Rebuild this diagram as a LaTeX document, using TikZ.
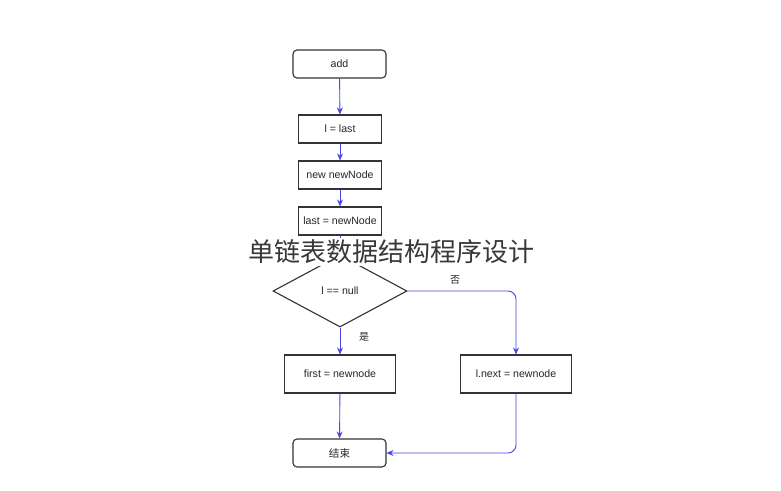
\documentclass[tikz,border=0pt]{standalone}
\usepackage{fontspec}
\setmainfont{Liberation Sans}
\newfontfamily\cjk{Noto Sans CJK SC}
\usetikzlibrary{shapes.geometric,arrows.meta}
\definecolor{edge}{HTML}{333333}
\definecolor{flow}{HTML}{4646E6}
\tikzset{
  base/.style={draw=edge, line width=1.1pt, font=\fontsize{10.6}{12}\selectfont, text=black!85, inner sep=0pt},
  term/.style={base, rounded corners=4pt, minimum width=93pt, minimum height=28pt},
  proc/.style={base, minimum width=83pt, minimum height=28pt},
  wide/.style={base, minimum width=111pt, minimum height=38pt},
  dec/.style={base, diamond, aspect=1.86, minimum width=134pt, minimum height=72pt},
  flowline/.style={draw=flow, line width=0.9pt, -{Stealth[length=7pt,width=6pt]}, rounded corners=8pt},
  lbl/.style={font=\cjk\fontsize{10}{12}\selectfont, text=black!85},
  wm/.style={font=\cjk\fontsize{26}{28}\selectfont, text=black!78, fill=white, inner sep=2pt}
}
\begin{document}
\begin{tikzpicture}[x=1pt,y=-1pt]
\path[use as bounding box, fill=white] (0,0) rectangle (781,490);
\node[term] (add) at (339.5,64) {add};
\node[proc] (l) at (340,129) {l = last};
\node[proc] (nn) at (340,175) {new newNode};
\node[proc] (ln) at (340,221) {last = newNode};
\node[dec] (d) at (340,291) {l == null};
\node[wide] (f) at (340,374) {first = newnode};
\node[wide] (nx) at (516,374) {l.next = newnode};
\node[term] (end) at (339.5,453) {\cjk 结束};
\coordinate (c1) at (516,291);
\coordinate (c2) at (516,453);
\draw[flowline] (add) -- (l);
\draw[flowline] (l) -- (nn);
\draw[flowline] (nn) -- (ln);
\draw[flowline] (ln) -- (d);
\draw[flowline] (d.south) -- (f);
\draw[flowline] (d.east) -- (c1) -- (nx.north);
\draw[flowline] (f) -- (end);
\draw[flowline] (nx.south) -- (c2) -- (end.east);
\node[lbl] (no) at (455,280) {否};
\node[lbl] (yes) at (364,337) {是};
\node[wm] (wmk) at (391,252) {单链表数据结构程序设计};
\end{tikzpicture}
\end{document}
